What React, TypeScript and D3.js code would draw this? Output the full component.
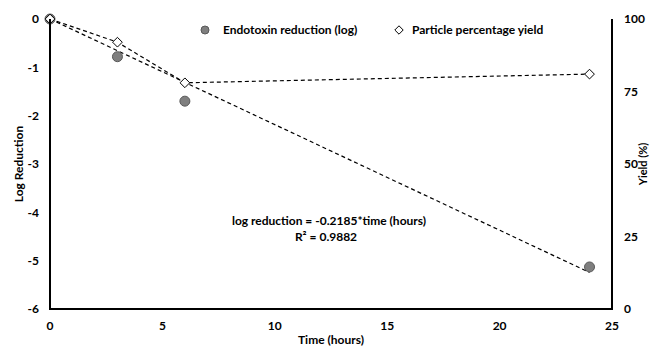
import { useEffect, useRef } from "react";
import * as d3 from "d3";

const hours = [0, 3, 6, 24];
const logReduction = [0, -0.78, -1.7, -5.13];
const yieldPct = [100, 92, 78, 81];
const slope = -0.2185;
const rSquared = "0.9882";
const xTicks = [0, 5, 10, 15, 20, 25];
const leftTicks = [0, -1, -2, -3, -4, -5, -6];
const rightTicks = [0, 25, 50, 75, 100];

const FONT = "Lato, 'Open Sans', sans-serif";

const App = () => {
  const svgRef = useRef<SVGSVGElement>(null);
  const width = 650;
  const height = 350;
  const margin = { top: 19, right: 38, bottom: 41, left: 50 };

  useEffect(() => {
    if (!svgRef.current) return;
    document.body.style.margin = "0";

    const svg = d3.select(svgRef.current);
    svg.selectAll("*").remove();

    const innerWidth = width - margin.left - margin.right;
    const innerHeight = height - margin.top - margin.bottom;

    const x = d3.scaleLinear().domain([0, 25]).range([0, innerWidth]);
    const yL = d3.scaleLinear().domain([-6, 0]).range([innerHeight, 0]);
    const yR = d3.scaleLinear().domain([0, 100]).range([innerHeight, 0]);

    const g = svg
      .append("g")
      .attr("transform", `translate(${margin.left},${margin.top})`)
      .style("font-family", FONT)
      .style("font-weight", "bold")
      .style("font-size", "12px");

    const line = (scaleY: d3.ScaleLinear<number, number>) =>
      d3
        .line<[number, number]>()
        .x((d) => x(d[0]))
        .y((d) => scaleY(d[1]));

    // yield line
    const yieldData = hours.map((h, i) => [h, yieldPct[i]] as [number, number]);
    g.append("path")
      .datum(yieldData)
      .attr("fill", "none")
      .attr("stroke", "#000")
      .attr("stroke-width", 1.2)
      .attr("stroke-dasharray", "4,3")
      .attr("d", line(yR));

    // linear trend for log reduction
    const trend: [number, number][] = [
      [0, 0],
      [24, slope * 24],
    ];
    g.append("path")
      .datum(trend)
      .attr("fill", "none")
      .attr("stroke", "#000")
      .attr("stroke-width", 1.2)
      .attr("stroke-dasharray", "4,3")
      .attr("d", line(yL));

    // endotoxin points
    g.selectAll("circle.endo")
      .data(hours)
      .join("circle")
      .attr("class", "endo")
      .attr("cx", (d) => x(d))
      .attr("cy", (_, i) => yL(logReduction[i]))
      .attr("r", 5)
      .attr("fill", "#7f7f7f")
      .attr("stroke", "#595959")
      .attr("stroke-width", 1);

    // yield points
    const diamond = d3.symbol().type(d3.symbolDiamond2).size(60);
    g.selectAll("path.yield")
      .data(hours)
      .join("path")
      .attr("class", "yield")
      .attr("transform", (d, i) => `translate(${x(d)},${yR(yieldPct[i])})`)
      .attr("d", diamond)
      .attr("fill", "#fff")
      .attr("stroke", "#000")
      .attr("stroke-width", 1);

    // axis lines
    g.append("line")
      .attr("x1", 0)
      .attr("x2", 0)
      .attr("y1", 0)
      .attr("y2", innerHeight)
      .attr("stroke", "#000")
      .attr("stroke-width", 2);
    g.append("line")
      .attr("x1", innerWidth)
      .attr("x2", innerWidth)
      .attr("y1", 0)
      .attr("y2", innerHeight)
      .attr("stroke", "#000")
      .attr("stroke-width", 2);
    g.append("line")
      .attr("x1", -1)
      .attr("x2", innerWidth + 1)
      .attr("y1", innerHeight)
      .attr("y2", innerHeight)
      .attr("stroke", "#000")
      .attr("stroke-width", 2);

    // tick labels
    g.selectAll("text.xt")
      .data(xTicks)
      .join("text")
      .attr("class", "xt")
      .attr("x", (d) => x(d))
      .attr("y", innerHeight + 21)
      .attr("text-anchor", "middle")
      .text((d) => d);

    g.selectAll("text.yl")
      .data(leftTicks)
      .join("text")
      .attr("class", "yl")
      .attr("x", -11)
      .attr("y", (d) => yL(d))
      .attr("dy", "0.35em")
      .attr("text-anchor", "end")
      .text((d) => d);

    g.selectAll("text.yr")
      .data(rightTicks)
      .join("text")
      .attr("class", "yr")
      .attr("x", innerWidth + 12)
      .attr("y", (d) => yR(d))
      .attr("dy", "0.35em")
      .attr("text-anchor", "start")
      .text((d) => d);

    // axis titles
    g.append("text")
      .attr("x", innerWidth / 2)
      .attr("y", innerHeight + 35)
      .attr("text-anchor", "middle")
      .text("Time (hours)");

    g.append("text")
      .attr("transform", `translate(${-27},${innerHeight / 2}) rotate(-90)`)
      .attr("text-anchor", "middle")
      .text("Log Reduction");

    g.append("text")
      .attr("transform", `translate(${innerWidth + 35},${innerHeight / 2}) rotate(-90)`)
      .attr("text-anchor", "middle")
      .style("font-size", "11px")
      .text("Yield (%)");

    // legend
    const legend = g.append("g").attr("transform", `translate(0,${30 - margin.top})`);
    legend
      .append("circle")
      .attr("cx", 205 - margin.left)
      .attr("cy", 0)
      .attr("r", 4)
      .attr("fill", "#7f7f7f")
      .attr("stroke", "#595959");
    legend
      .append("text")
      .attr("x", 223 - margin.left)
      .attr("dy", "0.35em")
      .text("Endotoxin reduction (log)");
    legend
      .append("path")
      .attr("transform", `translate(${399 - margin.left},0)`)
      .attr("d", d3.symbol().type(d3.symbolDiamond2).size(45)())
      .attr("fill", "#fff")
      .attr("stroke", "#000");
    legend
      .append("text")
      .attr("x", 412 - margin.left)
      .attr("dy", "0.35em")
      .text("Particle percentage yield");

    // trendline annotation
    g.append("text")
      .attr("x", 329 - margin.left)
      .attr("y", 225 - margin.top)
      .attr("text-anchor", "middle")
      .text(`log reduction = ${slope}*time (hours)`);
    g.append("text")
      .attr("x", 326 - margin.left)
      .attr("y", 241 - margin.top)
      .attr("text-anchor", "middle")
      .text(`R² = ${rSquared}`);
  }, []);

  return <svg ref={svgRef} width={width} height={height} style={{ display: "block" }} />;
};

export default App;
